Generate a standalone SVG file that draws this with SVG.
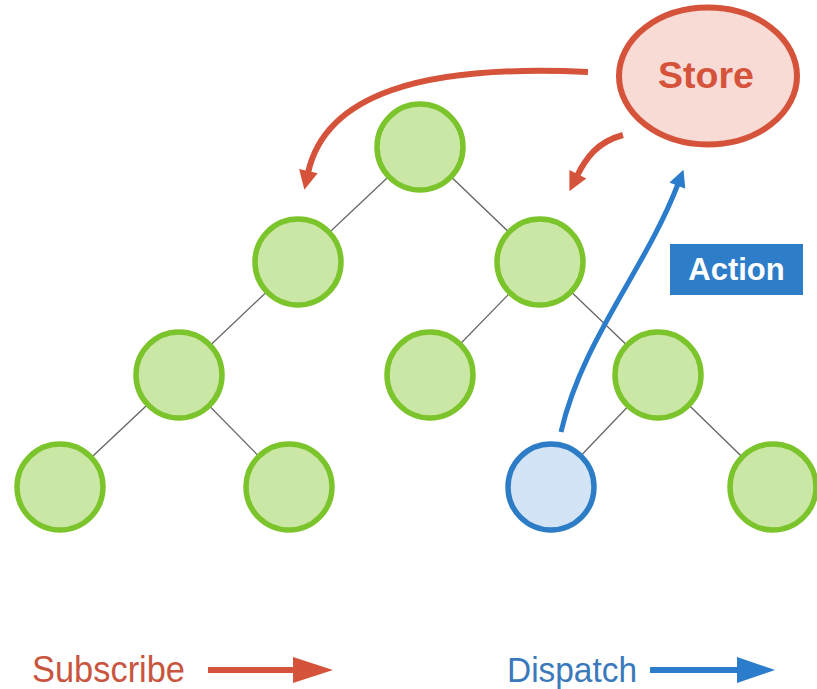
<svg xmlns="http://www.w3.org/2000/svg" width="817" height="689" viewBox="0 0 817 689">
  <style>
    .edge { stroke: #666666; stroke-width: 1.3; fill: none; }
    .node { fill: #cbe7a6; stroke: #7cc42c; stroke-width: 5.5; }
    .nodeBlue { fill: #d2e4f5; stroke: #2d7cc6; stroke-width: 5.5; }
    .red { stroke: #d6533b; stroke-width: 6; fill: none; stroke-linecap: butt; }
    .blue { stroke: #2b7ccb; stroke-width: 5; fill: none; }
    .lbl { font-family: "Liberation Sans", Arial, sans-serif; }
  </style>
  <defs>
    <marker id="headRed" viewBox="0 0 10 10" refX="1" refY="5" markerUnits="userSpaceOnUse" markerWidth="27" markerHeight="19" orient="auto">
      <path d="M0,0 L10,5 L0,10 z" fill="#d6533b"/>
    </marker>
    <marker id="headBlue" viewBox="0 0 10 10" refX="1" refY="5" markerUnits="userSpaceOnUse" markerWidth="25" markerHeight="17" orient="auto">
      <path d="M0,0 L10,5 L0,10 z" fill="#2b7ccb"/>
    </marker>
  </defs>

  <g id="edges">
    <line class="edge" x1="420" y1="147" x2="298" y2="262"/>
    <line class="edge" x1="420" y1="147" x2="540" y2="262"/>
    <line class="edge" x1="298" y1="262" x2="179" y2="375"/>
    <line class="edge" x1="540" y1="262" x2="430" y2="375"/>
    <line class="edge" x1="540" y1="262" x2="658" y2="375"/>
    <line class="edge" x1="179" y1="375" x2="60" y2="487"/>
    <line class="edge" x1="179" y1="375" x2="289" y2="487"/>
    <line class="edge" x1="658" y1="375" x2="551" y2="487"/>
    <line class="edge" x1="658" y1="375" x2="773" y2="487"/>
  </g>

  <g id="root"><circle class="node" cx="420" cy="147" r="43"/></g>
  <g id="n-l1"><circle class="node" cx="298" cy="262" r="43"/></g>
  <g id="n-r1"><circle class="node" cx="540" cy="262" r="43"/></g>
  <g id="n-l2"><circle class="node" cx="179" cy="375" r="43"/></g>
  <g id="n-m2"><circle class="node" cx="430" cy="375" r="43"/></g>
  <g id="n-r2"><circle class="node" cx="658" cy="375" r="43"/></g>
  <g id="n-l3a"><circle class="node" cx="60" cy="487" r="43"/></g>
  <g id="n-l3b"><circle class="node" cx="289" cy="487" r="43"/></g>
  <g id="n-dispatcher"><circle class="nodeBlue" cx="551" cy="487" r="43"/></g>
  <g id="n-r3"><circle class="node" cx="773" cy="487" r="43"/></g>

  <g id="store">
    <ellipse cx="708" cy="76" rx="89" ry="68.5" fill="#f8dbd5" stroke="#d6533b" stroke-width="6"/>
    <text class="lbl" x="706" y="88" text-anchor="middle" font-size="36" font-weight="bold" fill="#d6533b" textLength="96" lengthAdjust="spacingAndGlyphs">Store</text>
  </g>

  <g id="action">
    <rect x="670" y="244" width="133" height="51" fill="#2e7dc8"/>
    <text class="lbl" x="736.5" y="280" text-anchor="middle" font-size="31" font-weight="bold" fill="#ffffff">Action</text>
  </g>

  <g id="connectors">
    <path class="red" d="M588,72 C420,64 325,95 308,173" marker-end="url(#headRed)"/>
    <path class="red" d="M623,135 C597,142 586,158 577,176" marker-end="url(#headRed)"/>
    <path class="blue" d="M561,432 C582,340 645,270 678,184" marker-end="url(#headBlue)"/>
  </g>

  <g id="legend">
    <text class="lbl" x="32" y="682" font-size="37" fill="#c9553e" textLength="153" lengthAdjust="spacingAndGlyphs">Subscribe</text>
    <line x1="208" y1="670" x2="294" y2="670" stroke="#d6533b" stroke-width="6"/>
    <polygon points="293,657 333,670 293,683" fill="#d6533b"/>
    <text class="lbl" x="507" y="682" font-size="35" fill="#3a79bb" textLength="130" lengthAdjust="spacingAndGlyphs">Dispatch</text>
    <line x1="650" y1="670" x2="738" y2="670" stroke="#2b7ccb" stroke-width="6"/>
    <polygon points="737,657 775,670 737,683" fill="#2b7ccb"/>
  </g>
</svg>
